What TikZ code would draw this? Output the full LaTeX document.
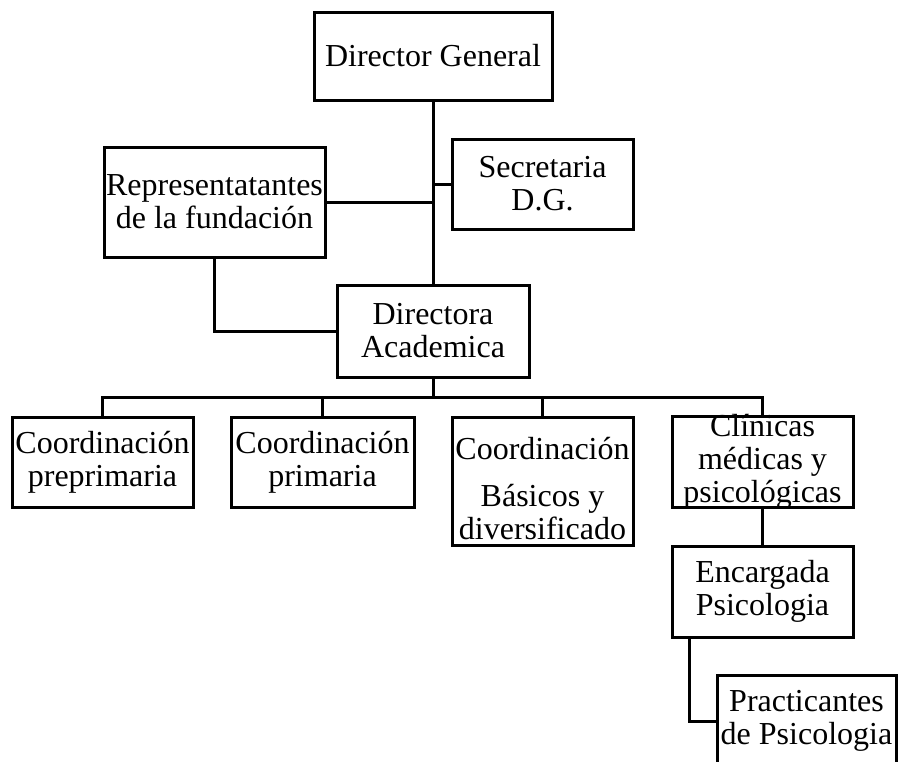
\documentclass[tikz,border=0pt]{standalone}
\usepackage{fontspec}
\setmainfont{Liberation Serif}
\usetikzlibrary{positioning}

\begin{document}
\begin{tikzpicture}[x=1pt, y=-1pt, line width=3pt, line join=miter,
  box/.style={draw, rectangle, inner sep=0pt, align=center,
              minimum width=181pt, minimum height=90pt,
              font=\fontsize{32}{33}\selectfont},
  txt/.style={inner sep=0pt, align=center, font=\fontsize{32}{33}\selectfont}]
\useasboundingbox (0,0) rectangle (899,761);
% top part
\node[box, minimum width=238pt, minimum height=88pt] (dg) at (433,56) {Director General};
\node[box] (sec) at (542.5,184) {Secretaria\\D.G.};
\node[box, minimum width=221pt, minimum height=110pt] (rep) at (214.5,202)
  {Representatantes\\de la fundación};
\node[box, minimum width=192pt, minimum height=92pt] (da) at (433,331) {Directora\\Academica};
% coordinaciones
\node[box, minimum width=181pt] (pre) at (102.5,462) {Coordinación\\preprimaria};
\node[box, minimum width=183pt] (pri) at (322.5,462) {Coordinación\\primaria};
\node[box, minimum height=128pt] (bas) at (542.5,481) {};
\node[txt, anchor=north] at (542.5,436) {Coordinación\\[14pt]Básicos y\\diversificado};
\node[box, minimum height=91pt] (cli) at (762.5,461.5) {};
\node[txt, anchor=north] at (762.5,413) {Clínicas\\médicas y\\psicológicas};
\node[box, minimum height=91pt] (enc) at (762.5,591.5) {Encargada\\Psicologia};
\node[box, minimum width=179pt, minimum height=92pt] (pra) at (806.5,721) {Practicantes\\de Psicologia};
\coordinate (bus) at (433,397);
% connectors
\draw (dg) -- (da);
\draw (sec.west) -- (sec.west -| dg.south);
\draw (rep.east) -- (rep.east -| dg.south);
\draw (rep.south) |- (da.west);
\draw (da) -- (bus);
\draw (pre.north) |- (bus) -| (cli.north);
\foreach \n in {pri, bas} \draw (\n.north) -- (\n.north |- bus);
\draw (cli) -- (enc);
\draw ([xshift=19pt]enc.south west) |- (pra.west);
\end{tikzpicture}
\end{document}
